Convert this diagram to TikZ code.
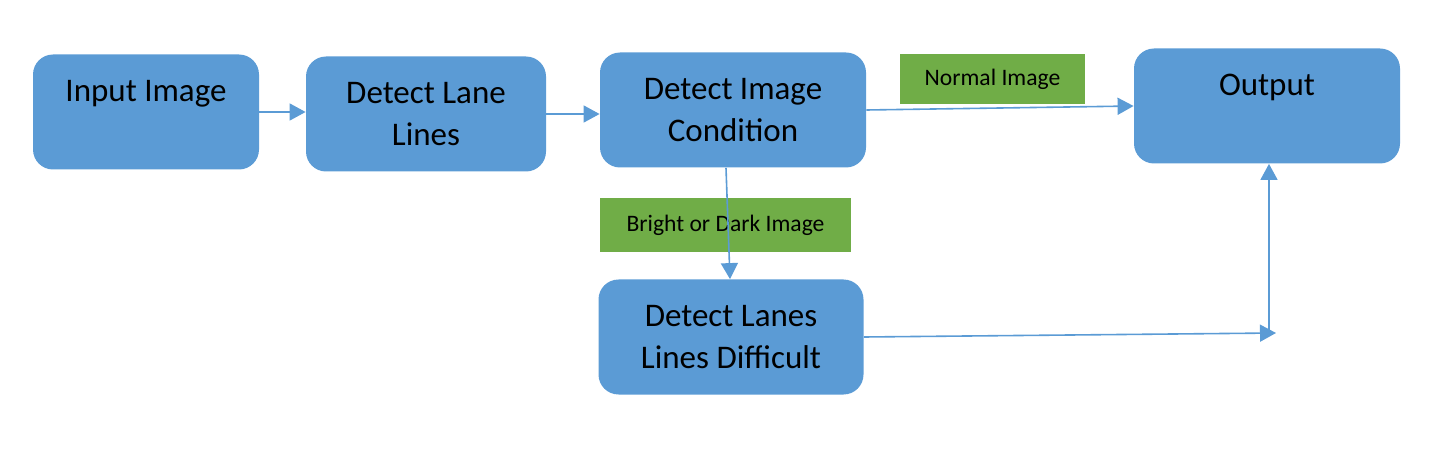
\documentclass[tikz,border=0pt]{standalone}
\usepackage{fontspec}
\setmainfont{Carlito}
\usetikzlibrary{arrows.meta}
\definecolor{boxblue}{HTML}{5B9BD5}
\definecolor{lblgreen}{HTML}{70AD47}
\tikzset{
  procbox/.style={fill=boxblue, draw=none, rounded corners=10pt, align=center,
    font=\fontsize{16.5}{21}\selectfont, minimum height=57.5pt, inner sep=0pt},
  condlabel/.style={fill=lblgreen, draw=none, font=\fontsize{11.8}{14}\selectfont, inner sep=0pt},
  arr/.style={draw=boxblue, line width=0.8pt, -{Triangle[length=8pt,width=8.5pt]}}
}
\begin{document}
\begin{tikzpicture}[x=0.5pt,y=-0.5pt]
\useasboundingbox (0,0) rectangle (1432,460);
\node[procbox, minimum width=113pt] (in) at (146,112) {Input Image\\\mbox{}};
\node[procbox, minimum width=120pt] (dll) at (426,114) {Detect Lane\\Lines};
\node[procbox, minimum width=133pt] (dic) at (733,110) {Detect Image\\Condition};
\node[procbox, minimum width=133pt] (out) at (1267,106) {Output\\\mbox{}};
\node[procbox, minimum width=132.5pt] (dld) at (731,337) {Detect Lanes\\Lines Difficult};
\node[condlabel, minimum width=92.5pt, minimum height=25pt] (normal) at (992.5,79) {Normal Image};
\node[condlabel, minimum width=125.5pt, minimum height=27pt] (bright) at (725.5,225) {Bright or Dark Image};
\coordinate (j) at (1276,333);
\coordinate (k) at (1269,333);
\draw[arr] (in.east) -- (dll.west |- in.east);
\draw[arr] (dll.east) -- (dll.east -| dic.west);
\draw[arr] (dic.east) -- (out.west);
\draw[arr] ([xshift=-3.5pt]dic.south) -- ([xshift=-0.5pt]dld.north);
\draw[arr] (dld.east) -- (j);
\draw[arr] (k) -- (k |- out.south);
\end{tikzpicture}
\end{document}
